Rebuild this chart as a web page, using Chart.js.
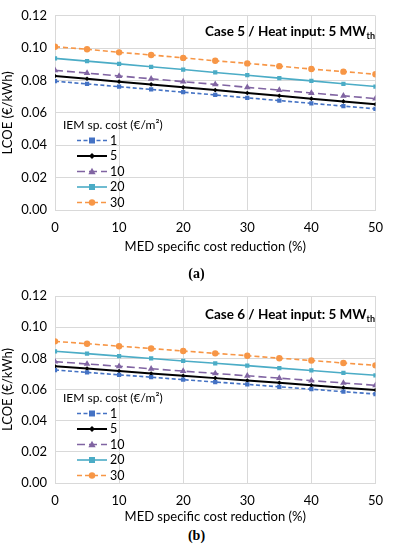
<!DOCTYPE html>
<html><head><meta charset="utf-8">
<script src="https://cdn.jsdelivr.net/npm/chart.js@4"></script>
<style>
html,body{margin:0;padding:0;background:#fff;}
body{width:393px;height:550px;position:relative;overflow:hidden;font-family:Lato,"Open Sans",sans-serif;}
.wrap{position:absolute;left:0;width:393px;height:255px;}
.note{position:absolute;font-family:Lato,sans-serif;font-weight:bold;font-size:13.5px;color:#000;white-space:nowrap;}
.note sub{font-size:9px;vertical-align:-3px;}
.cap{position:absolute;width:393px;text-align:center;font-family:"Liberation Serif",serif;font-weight:bold;font-size:14px;color:#000;}
</style></head>
<body>
<div class="wrap" style="top:0"><canvas id="ca"></canvas></div>
<div class="wrap" style="top:270px"><canvas id="cb"></canvas></div>
<div class="note" style="right:18px;top:23px">Case 5 / Heat input: 5 MW<sub>th</sub></div>
<div class="note" style="right:18px;top:306px">Case 6 / Heat input: 5 MW<sub>th</sub></div>
<div class="cap" style="top:266px">(a)</div>
<div class="cap" style="top:528px">(b)</div>
<script>
const xVals = [0,5,10,15,20,25,30,35,40,45,50];
const seriesNames = ['1','5','10','20','30'];
const legendTitle = 'IEM sp. cost (€/m²)';
const yTicks = [0,0.02,0.04,0.06,0.08,0.10,0.12];
const xTicks = [0,10,20,30,40,50];
// Case 5
const c5_1  = [0.0796,0.0779,0.0762,0.0745,0.0728,0.0711,0.0693,0.0676,0.0659,0.0642,0.0625];
const c5_5  = [0.0828,0.0811,0.0793,0.0776,0.0758,0.0741,0.0723,0.0706,0.0688,0.0671,0.0653];
const c5_10 = [0.0863,0.0846,0.0828,0.0811,0.0793,0.0776,0.0758,0.0741,0.0723,0.0706,0.0688];
const c5_20 = [0.0937,0.0920,0.0903,0.0885,0.0868,0.0850,0.0833,0.0815,0.0798,0.0780,0.0763];
const c5_30 = [0.1009,0.0993,0.0974,0.0958,0.0940,0.0922,0.0906,0.0889,0.0871,0.0855,0.0839];
// Case 6
const c6_1  = [0.0725,0.0710,0.0694,0.0679,0.0663,0.0648,0.0633,0.0617,0.0602,0.0586,0.0571];
const c6_5  = [0.0749,0.0734,0.0719,0.0703,0.0688,0.0673,0.0658,0.0643,0.0627,0.0612,0.0597];
const c6_10 = [0.0779,0.0764,0.0749,0.0733,0.0718,0.0703,0.0688,0.0673,0.0657,0.0642,0.0627];
const c6_20 = [0.0845,0.0830,0.0814,0.0799,0.0783,0.0768,0.0753,0.0737,0.0722,0.0706,0.0691];
const c6_30 = [0.0909,0.0894,0.0878,0.0863,0.0847,0.0832,0.0817,0.0801,0.0786,0.0770,0.0755];

const styles = [
  {color:'#4472C4', dash:[4,2.5], point:'rect', r:3, w:1.6},
  {color:'#000000', dash:[], point:'rectRot', r:2.3, w:2},
  {color:'#8064A2', dash:[8,4], point:'triangle', r:3.8, w:1.6},
  {color:'#4BACC6', dash:[], point:'rect', r:3, w:1.6},
  {color:'#F79646', dash:[5,3], point:'circle', r:3.2, w:1.6}
];
const FONT = 'Lato, "Open Sans", sans-serif';

function drawMarker(ctx, type, x, y, r, color){
  ctx.save(); ctx.fillStyle=color; ctx.strokeStyle=color; ctx.setLineDash([]);
  ctx.beginPath();
  if(type==='rect'){ ctx.rect(x-r,y-r,2*r,2*r); }
  else if(type==='rectRot'){ ctx.moveTo(x,y-r*1.3);ctx.lineTo(x+r*1.3,y);ctx.lineTo(x,y+r*1.3);ctx.lineTo(x-r*1.3,y);ctx.closePath(); }
  else if(type==='triangle'){ ctx.moveTo(x,y-r);ctx.lineTo(x+r*0.95,y+r*0.7);ctx.lineTo(x-r*0.95,y+r*0.7);ctx.closePath(); }
  else { ctx.arc(x,y,r,0,Math.PI*2); }
  ctx.fill(); ctx.restore();
}

function legendPlugin(titleY){
  return {
    id:'inlegend',
    afterDraw(chart){
      const ctx=chart.ctx; ctx.save();
      ctx.font='12px '+FONT; ctx.fillStyle='#000'; ctx.textBaseline='middle';
      ctx.fillText(legendTitle, 63, titleY);
      chart.data.datasets.forEach((ds,i)=>{
        const y=titleY+15.5*(i+1);
        const s=styles[i];
        ctx.save(); ctx.strokeStyle=s.color; ctx.lineWidth=s.w; ctx.setLineDash(s.dash);
        ctx.beginPath(); ctx.moveTo(77,y); ctx.lineTo(107,y); ctx.stroke(); ctx.restore();
        drawMarker(ctx, s.point, 92, y, s.r, s.color);
        ctx.fillStyle='#000'; ctx.font='12.5px '+FONT;
        ctx.fillText(ds.label, 110, y);
      });
      ctx.restore();
    }
  };
}

function makeChart(id, arrs, padTop, xH, legendY){
  const datasets = arrs.map((arr,i)=>({
    label: seriesNames[i],
    data: xVals.map((x,j)=>({x:x,y:arr[j]})),
    borderColor: styles[i].color, backgroundColor: styles[i].color,
    borderWidth: styles[i].w, borderDash: styles[i].dash,
    pointStyle: styles[i].point, pointRadius: styles[i].r, pointBorderWidth:0,
    pointBackgroundColor: styles[i].color, tension:0
  }));
  new Chart(document.getElementById(id), {
    type:'line',
    data:{datasets},
    options:{
      responsive:true, maintainAspectRatio:false, animation:false,
      layout:{padding:{top:padTop,right:15,left:0,bottom:0}},
      plugins:{legend:{display:false}, tooltip:{enabled:false}},
      scales:{
        x:{type:'linear', min:0, max:50,
          afterBuildTicks(s){ s.ticks = xTicks.map(v=>({value:v})); },
          afterFit(s){ s.height = xH; },
          grid:{color:'#D9D9D9', drawTicks:false, lineWidth:1},
          border:{color:'#D9D9D9'},
          ticks:{color:'#000', font:{family:FONT,size:13}, padding:10, maxRotation:0},
          title:{display:true, text:'MED specific cost reduction (%)', color:'#000', font:{family:FONT,size:13}, padding:{top:2,bottom:0}}
        },
        y:{min:0, max:0.12,
          afterBuildTicks(s){ s.ticks = yTicks.map(v=>({value:v})); },
          afterFit(s){ s.width = 55; },
          grid:{color:'#D9D9D9', drawTicks:false, lineWidth:1},
          border:{color:'#D9D9D9'},
          ticks:{color:'#000', font:{family:FONT,size:13}, padding:8, callback:v=>v.toFixed(2)},
          title:{display:true, text:'LCOE (€/kWh)', color:'#000', font:{family:FONT,size:13}, padding:{top:0,bottom:0}}
        }
      }
    },
    plugins:[legendPlugin(legendY)]
  });
}

makeChart('ca', [c5_1,c5_5,c5_10,c5_20,c5_30], 13, 45, 125);
makeChart('cb', [c6_1,c6_5,c6_10,c6_20,c6_30], 26, 42, 128);
</script>
</body></html>
